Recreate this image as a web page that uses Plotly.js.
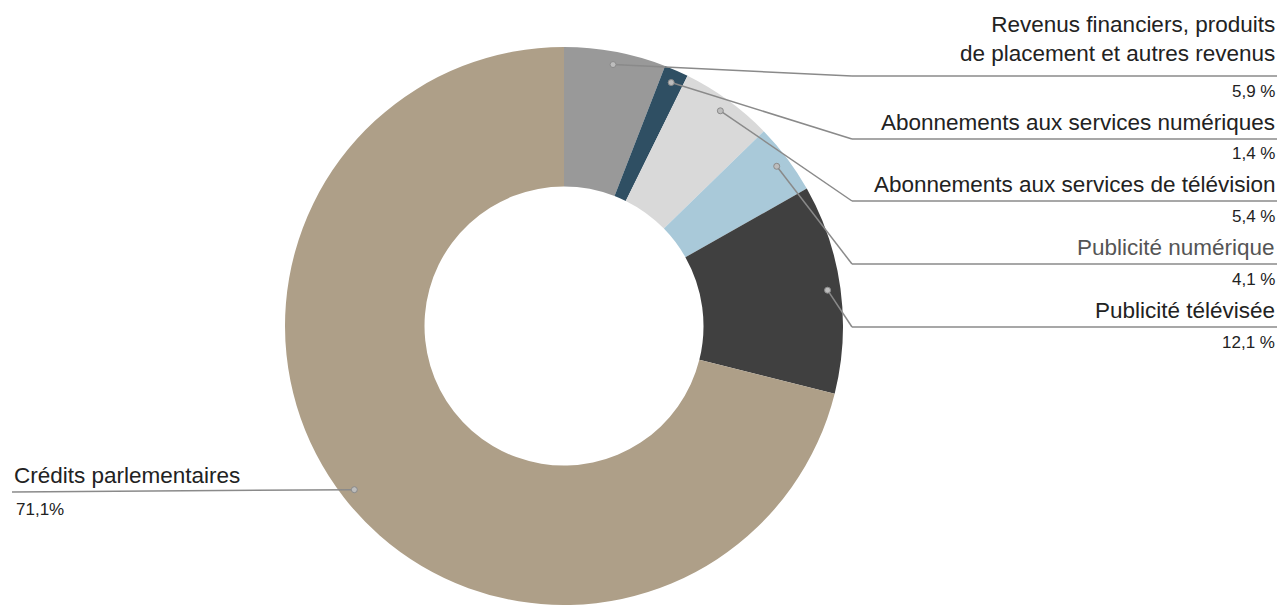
<!DOCTYPE html>
<html>
<head>
<meta charset="utf-8">
<script src="https://cdn.plot.ly/plotly-3.0.1.min.js"></script>
<style>html,body{margin:0;padding:0;background:#fff;}#chart{width:1281px;height:605px;}</style>
</head>
<body>
<div id="chart"></div>
<script>
// ---- data ----
const categories = [
  "Revenus financiers, produits<br>de placement et autres revenus",
  "Abonnements aux services numériques",
  "Abonnements aux services de télévision",
  "Publicité numérique",
  "Publicité télévisée",
  "Crédits parlementaires"
];
const values = [5.9, 1.4, 5.4, 4.1, 12.1, 71.1];
const valueLabels = ["5,9 %", "1,4 %", "5,4 %", "4,1 %", "12,1 %", "71,1%"];
const sliceColors = ["#999999", "#2f4f63", "#d9d9d9", "#a9c9d9", "#404040", "#ae9f88"];

// ---- layout geometry (pixels) ----
const W = 1281, H = 605;
const cx = 564, cy = 326, R = 279;
const dotR = 266;
const rowY = [76, 139, 201, 264, 327, 492];
const labelGap = [8, 2, 2, 2, 2, 2];
const elbowX = 852;
const rightX = 1277, leftX = 12;
const labelColors = ["#222", "#222", "#222", "#555", "#222", "#222"];

const px = x => x / W;
const py = y => 1 - y / H;

const total = values.reduce((a, b) => a + b, 0);
const shapes = [];
const annotations = [];
let cum = 0;
values.forEach((v, i) => {
  const mid = (cum + v / 2) / total * 2 * Math.PI;
  cum += v;
  const dx = cx + dotR * Math.sin(mid);
  const dy = cy - dotR * Math.cos(mid);
  const lineStyle = {color: "#8a8a8a", width: 1.5};
  const isLeft = dx < cx;
  if (isLeft) {
    shapes.push({type: "line", xref: "paper", yref: "paper",
      x0: px(dx), y0: py(dy), x1: px(leftX), y1: py(rowY[i]), line: lineStyle});
  } else {
    shapes.push({type: "line", xref: "paper", yref: "paper",
      x0: px(dx), y0: py(dy), x1: px(elbowX), y1: py(rowY[i]), line: lineStyle});
    shapes.push({type: "line", xref: "paper", yref: "paper",
      x0: px(elbowX), y0: py(rowY[i]), x1: px(rightX), y1: py(rowY[i]), line: lineStyle});
  }
  shapes.push({type: "circle", xref: "paper", yref: "paper",
    x0: px(dx - 3), x1: px(dx + 3), y0: py(dy - 3), y1: py(dy + 3),
    fillcolor: "#bdbdbd", line: {color: "#8a8a8a", width: 1}});
  const ax = isLeft ? px(leftX) : px(rightX);
  const xa = isLeft ? "left" : "right";
  annotations.push({xref: "paper", yref: "paper", x: ax, y: py(rowY[i] - labelGap[i]),
    xanchor: xa, yanchor: "bottom", align: xa, showarrow: false,
    text: categories[i],
    font: {family: "Liberation Sans, Arial, sans-serif", size: 22.5, color: labelColors[i]}});
  annotations.push({xref: "paper", yref: "paper", x: isLeft ? px(leftX + 2) : ax,
    y: py(rowY[i] + (isLeft ? 17 : 15)),
    xanchor: xa, yanchor: "middle", showarrow: false,
    text: valueLabels[i],
    font: {family: "Liberation Sans, Arial, sans-serif", size: 17, color: "#222"}});
});

const trace = {
  type: "pie",
  labels: categories,
  values: values,
  sort: false,
  direction: "clockwise",
  rotation: 0,
  hole: 0.5,
  textinfo: "none",
  hoverinfo: "label+percent",
  marker: {colors: sliceColors, line: {width: 0}},
  domain: {x: [(cx - R) / W, (cx + R) / W], y: [0, 2 * R / H]},
  showlegend: false
};

const layout = {
  width: W, height: H,
  margin: {l: 0, r: 0, t: 0, b: 0},
  paper_bgcolor: "#ffffff",
  showlegend: false,
  shapes: shapes,
  annotations: annotations
};

Plotly.newPlot("chart", [trace], layout, {displayModeBar: false, staticPlot: true});
</script>
</body>
</html>
